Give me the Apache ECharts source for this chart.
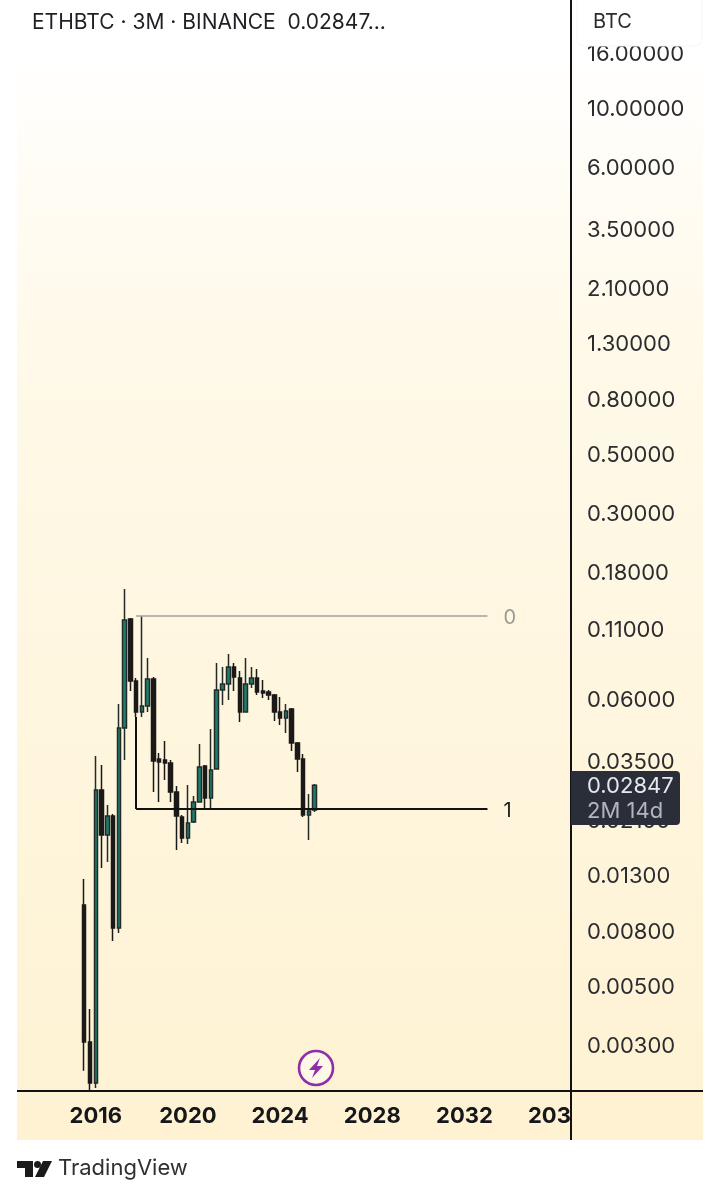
<!DOCTYPE html>
<html>
<head>
<meta charset="utf-8">
<style>html,body{margin:0;padding:0;background:#fff}#c{width:720px;height:1200px}</style>
<script src="https://cdn.jsdelivr.net/npm/echarts@6/dist/echarts.min.js"></script>
</head>
<body>
<div id="c"></div>
<script>
// Quarterly axis from 2012 Q4 to 2036 Q3
const firstYear = 2012, bandCount = 96;
const categories = [];
for (let i = 0; i < bandCount; i++) {
  const q = i + 3;
  categories.push((firstYear + Math.floor(q / 4)) + '-Q' + (q % 4 + 1));
}
const xTickYears = ['2016', '2020', '2024', '2028', '2032', '2036'];
const yTickValues = [0.003, 0.005, 0.008, 0.013, 0.021, 0.035, 0.06, 0.11, 0.18, 0.3, 0.5, 0.8, 1.3, 2.1, 3.5, 6, 10, 16];
const firstCandle = '2015-Q3';

const opens  = [.01008,.00308,.00216,.02729,.01849,.02179,.00827,.04668,.1199,.07013,.05362,.05648,.07136,.0357,.03539,.03448,.02682,.0216,.01802,.02069,.0246,.0336,.02546,.03274,.06487,.06833,.07916,.07198,.05362,.06833,.07198,.06431,.06375,.06212,.05362,.05091,.05503,.041,.0357,.02198,.02295];
const closes = [.00308,.00216,.02729,.01849,.02179,.00827,.04668,.1189,.07013,.05362,.05648,.07136,.03509,.03478,.03448,.02682,.02179,.01802,.02051,.0246,.03331,.02546,.03245,.06487,.06833,.07916,.0726,.05362,.06833,.07198,.06375,.0632,.06212,.05362,.05091,.05409,.041,.0357,.02198,.02275,.02847];
const lows   = [.0024,.00203,.00207,.01389,.01463,.00739,.00791,.03539,.06431,.05135,.05135,.05362,.02682,.0246,.02976,.0246,.01624,.01725,.01711,.02051,.0246,.02295,.02295,.03274,.05697,.05949,.06431,.04917,.05362,.06601,.06212,.06053,.05949,.0496,.04791,.04471,.03826,.03189,.0216,.01771,.02256];
const highs  = [.01263,.0041,.03664,.03389,.02397,.02217,.05747,.15549,.121,.07198,.1231,.08558,.0726,.0376,.04172,.03539,.02825,.02198,.0285,.02591,.04065,.03389,.04628,.08195,.07916,.0886,.08195,.07648,.08558,.07916,.0778,.07074,.06487,.06266,.06106,.05747,.05551,.04136,.03728,.02636,.02875];

const fibLevels = [0.1231, 0.02316];
const fibLabels = ['0', '1'];
const fibStart = '2017-Q4', fibEnd = '2033-Q1', fibStemTop = 0.05135;

const yMin = 0.002016, yMax = 25.47;
const lastPrice = '0.02847', countdown = '2M 14d';

const startIdx = categories.indexOf(firstCandle);
const rows = opens.map((o, i) => [startIdx + i, o, closes[i], lows[i], highs[i]]);

const AXIS = '#111215', UP = '#1f7d6b', DOWN = '#1b1a18';
const FONT = 'Inter, "Liberation Sans", sans-serif';

const chart = echarts.init(document.getElementById('c'), null, {width: 720, height: 1200, renderer: 'canvas'});
chart.setOption({
  animation: false,
  backgroundColor: '#ffffff',
  grid: {left: 18, top: 0, width: 553, height: 1091, containLabel: false},
  xAxis: {
    type: 'category',
    data: categories,
    boundaryGap: true,
    axisLine: {show: true, onZero: false, lineStyle: {color: AXIS, width: 2}},
    axisTick: {show: false},
    splitLine: {show: false},
    axisLabel: {
      show: true, margin: 14, color: '#16171b', fontSize: 22, fontWeight: 700, fontFamily: FONT,
      interval: (i, name) => name.endsWith('-Q1') && xTickYears.includes(name.slice(0, 4)),
      formatter: name => name.slice(0, 4)
    }
  },
  yAxis: {
    type: 'log',
    logBase: 10,
    position: 'right',
    min: yMin,
    max: yMax,
    axisLine: {show: true, onZero: false, lineStyle: {color: AXIS, width: 2}},
    axisTick: {show: false},
    splitLine: {show: false},
    minorSplitLine: {show: false},
    axisLabel: {
      show: true, margin: 16, color: '#2b2c30', fontSize: 22, fontFamily: FONT,
      customValues: yTickValues,
      showMinLabel: true, showMaxLabel: true, hideOverlap: false,
      formatter: v => '{t|' + Number(v).toFixed(5) + '}',
      rich: {t: {color: '#2b2c30', fontSize: 22, fontFamily: FONT, padding: [2, 0, 0, 0]}}
    }
  },
  series: [{
    type: 'candlestick',
    barWidth: 4,
    encode: {x: 0, y: [1, 2, 3, 4]},
    itemStyle: {color: UP, color0: DOWN, borderColor: '#232b28', borderColor0: DOWN, borderWidth: 1.5},
    data: rows,
    markLine: {
      silent: true,
      symbol: 'none',
      animation: false,
      data: [
        [{coord: [fibStart, fibLevels[0]], lineStyle: {color: '#a3a39c', width: 1.5, type: 'solid'},
          label: {show: true, position: 'end', distance: 14, offset: [2, 2], formatter: fibLabels[0], color: '#9b9b96', fontSize: 20, fontFamily: FONT}},
         {coord: [fibEnd, fibLevels[0]]}],
        [{coord: [fibStart, fibLevels[1]], lineStyle: {color: '#111111', width: 2, type: 'solid'},
          label: {show: true, position: 'end', distance: 14, offset: [2, 2], formatter: fibLabels[1], color: '#1a1a1a', fontSize: 20, fontFamily: FONT}},
         {coord: [fibEnd, fibLevels[1]]}],
        [{coord: [fibStart, fibStemTop], lineStyle: {color: '#111111', width: 2, type: 'solid'}, label: {show: false}},
         {coord: [fibStart, fibLevels[1]]}]
      ]
    }
  }],
  graphic: {elements: [
    // panel background
    {type: 'rect', z: -10, shape: {x: 17, y: 0, width: 686, height: 1140},
     style: {fill: new echarts.graphic.LinearGradient(0, 0, 0, 1, [
       {offset: 0, color: '#ffffff'}, {offset: 0.04, color: '#ffffff'}, {offset: 0.3, color: '#fff9e9'},
       {offset: 0.6, color: '#fef6df'}, {offset: 1, color: '#fef2d3'}])}},
    // hides the part of the last year label past the price scale
    {type: 'rect', z: 50, shape: {x: 572, y: 1092, width: 131, height: 48}, style: {fill: '#fef2d3'}},
    // axis line extensions
    {type: 'line', z: 60, shape: {x1: 571, y1: 1091, x2: 703, y2: 1091}, style: {stroke: AXIS, lineWidth: 2}},
    {type: 'line', z: 60, shape: {x1: 17, y1: 1091, x2: 18, y2: 1091}, style: {stroke: AXIS, lineWidth: 2}},
    {type: 'line', z: 60, shape: {x1: 571, y1: 1091, x2: 571, y2: 1140}, style: {stroke: AXIS, lineWidth: 2}},
    // header
    {type: 'text', z: 60, x: 32, y: 23, style: {text: 'ETHBTC · 3M · BINANCE  0.02847...', fill: '#1f2024', fontSize: 21, fontFamily: FONT, verticalAlign: 'middle'}},
    // currency box
    {type: 'rect', z: 60, shape: {x: 577, y: -6, width: 125, height: 52, r: 7}, style: {fill: '#ffffff', stroke: '#f7f6f2', lineWidth: 1}},
    {type: 'text', z: 61, x: 593, y: 22, style: {text: 'BTC', fill: '#2b2c30', fontSize: 20, fontFamily: FONT, verticalAlign: 'middle'}},
    // last price tag
    {type: 'rect', z: 60, shape: {x: 571, y: 771, width: 109, height: 54, r: [0, 4, 4, 0]}, style: {fill: '#2a2e39'}},
    {type: 'text', z: 61, x: 587, y: 786, style: {text: lastPrice, fill: '#e6e7ea', fontSize: 22, fontFamily: FONT, verticalAlign: 'middle'}},
    {type: 'text', z: 61, x: 587, y: 811, style: {text: countdown, fill: '#b2b5be', fontSize: 22, fontFamily: FONT, verticalAlign: 'middle'}},
    // bolt badge
    {type: 'circle', z: 60, shape: {cx: 316, cy: 1068, r: 17}, style: {fill: '#fff8e6', stroke: '#8e2fa8', lineWidth: 2.6}},
    {type: 'polygon', z: 61, shape: {points: [[320, 1058], [309, 1070], [315, 1070], [312, 1078], [323, 1066], [317, 1066]]}, style: {fill: '#8e2fa8'}},
    // footer logo
    {type: 'polygon', z: 60, shape: {points: [[17, 1161], [33, 1161], [33, 1177], [25, 1177], [25, 1168], [17, 1168]]}, style: {fill: '#1a1a1a'}},
    {type: 'circle', z: 60, shape: {cx: 37.5, cy: 1164.5, r: 3.5}, style: {fill: '#1a1a1a'}},
    {type: 'polygon', z: 60, shape: {points: [[43, 1161], [52, 1161], [44, 1177], [35, 1177]]}, style: {fill: '#1a1a1a'}},
    {type: 'text', z: 60, x: 58, y: 1168, style: {text: 'TradingView', fill: '#2f3034', fontSize: 22, fontFamily: FONT, verticalAlign: 'middle'}}
  ]}
});
</script>
</body>
</html>
